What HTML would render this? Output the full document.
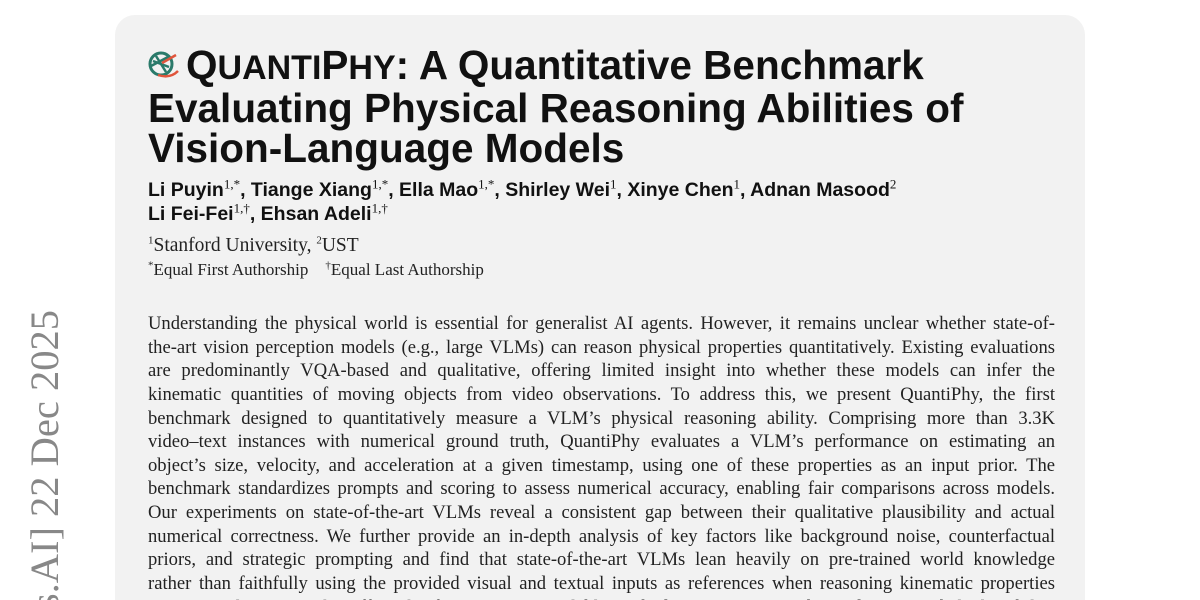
<!DOCTYPE html>
<html><head><meta charset="utf-8"><style>
html,body{margin:0;padding:0;width:1200px;height:600px;overflow:hidden;background:#fff;}
.wrap{position:relative;width:1200px;height:600px;overflow:hidden;}
.card{position:absolute;left:115px;top:15px;width:970px;height:585px;background:#f2f2f2;border-radius:20px 20px 0 0;}
.side{position:absolute;left:24px;top:310px;white-space:nowrap;transform-origin:0 0;transform:rotate(-90deg) translateX(-100%);font-family:"Liberation Serif",serif;font-size:40.5px;color:#888;line-height:42px;}
.title{position:absolute;left:148px;top:45px;font-family:"Liberation Sans",sans-serif;font-weight:bold;font-size:40.5px;line-height:40px;color:#111;white-space:nowrap;}
.sc{font-size:34px;}
.auth{position:absolute;left:148px;top:178px;font-family:"Liberation Sans",sans-serif;font-weight:bold;font-size:19.5px;line-height:24px;color:#111;white-space:nowrap;}
.auth sup{font-weight:normal;font-size:13px;font-family:"Liberation Serif",serif;line-height:0;}
.aff{position:absolute;left:148px;top:234px;font-family:"Liberation Serif",serif;font-size:19.5px;color:#222;white-space:nowrap;line-height:24px;}
.aff2{position:absolute;left:148px;top:259px;font-family:"Liberation Serif",serif;font-size:17px;color:#222;white-space:nowrap;line-height:22px;}
sup{font-size:11px;line-height:0;}
.body{position:absolute;left:148px;top:312px;width:907px;font-family:"Liberation Serif",serif;font-size:18.6px;color:#222;}
.body div{height:23.65px;line-height:23.65px;text-align:justify;text-align-last:justify;white-space:nowrap;}
.icon{display:inline-block;vertical-align:-2px;margin-right:6px;}
</style></head><body><div class="wrap">
<div class="card"></div>
<div class="side">arXiv:2512.14521v1 [cs.AI] 22 Dec 2025</div>
<div class="title"><span class="icon"><svg width="32" height="30" viewBox="0 0 32 30"><circle cx="13" cy="13" r="11" fill="none" stroke="#2a7a6a" stroke-width="3"/><path d="M5 10 L21 16 M8 5 L18 21 M3 15 L20 6" stroke="#2a7a6a" stroke-width="2.5"/><path d="M10 24 Q22 28 30 20 M14 12 L28 4" stroke="#e0553c" stroke-width="2.5" fill="none"/></svg></span>Q<span class="sc">UANTI</span>P<span class="sc">HY</span>: A Quantitative Benchmark<br>Evaluating Physical Reasoning Abilities of<br>Vision-Language Models</div>
<div class="auth">Li Puyin<sup>1,*</sup>, Tiange Xiang<sup>1,*</sup>, Ella Mao<sup>1,*</sup>, Shirley Wei<sup>1</sup>, Xinye Chen<sup>1</sup>, Adnan Masood<sup>2</sup><br>Li Fei-Fei<sup>1,†</sup>, Ehsan Adeli<sup>1,†</sup></div>
<div class="aff"><sup>1</sup>Stanford University, <sup>2</sup>UST</div>
<div class="aff2"><sup>*</sup>Equal First Authorship &nbsp;&nbsp;&nbsp;<sup>†</sup>Equal Last Authorship</div>
<div class="body">
<div>Understanding the physical world is essential for generalist AI agents. However, it remains unclear whether state-of-</div>
<div>the-art vision perception models (e.g., large VLMs) can reason physical properties quantitatively. Existing evaluations</div>
<div>are predominantly VQA-based and qualitative, offering limited insight into whether these models can infer the</div>
<div>kinematic quantities of moving objects from video observations. To address this, we present QuantiPhy, the first</div>
<div>benchmark designed to quantitatively measure a VLM’s physical reasoning ability. Comprising more than 3.3K</div>
<div>video–text instances with numerical ground truth, QuantiPhy evaluates a VLM’s performance on estimating an</div>
<div>object’s size, velocity, and acceleration at a given timestamp, using one of these properties as an input prior. The</div>
<div>benchmark standardizes prompts and scoring to assess numerical accuracy, enabling fair comparisons across models.</div>
<div>Our experiments on state-of-the-art VLMs reveal a consistent gap between their qualitative plausibility and actual</div>
<div>numerical correctness. We further provide an in-depth analysis of key factors like background noise, counterfactual</div>
<div>priors, and strategic prompting and find that state-of-the-art VLMs lean heavily on pre-trained world knowledge</div>
<div>rather than faithfully using the provided visual and textual inputs as references when reasoning kinematic properties</div>
<div>quantitatively. QuantiPhy offers the first rigorous, scalable testbed to move VLMs beyond mere verbal plausibility</div>
</div>
</div></body></html>
